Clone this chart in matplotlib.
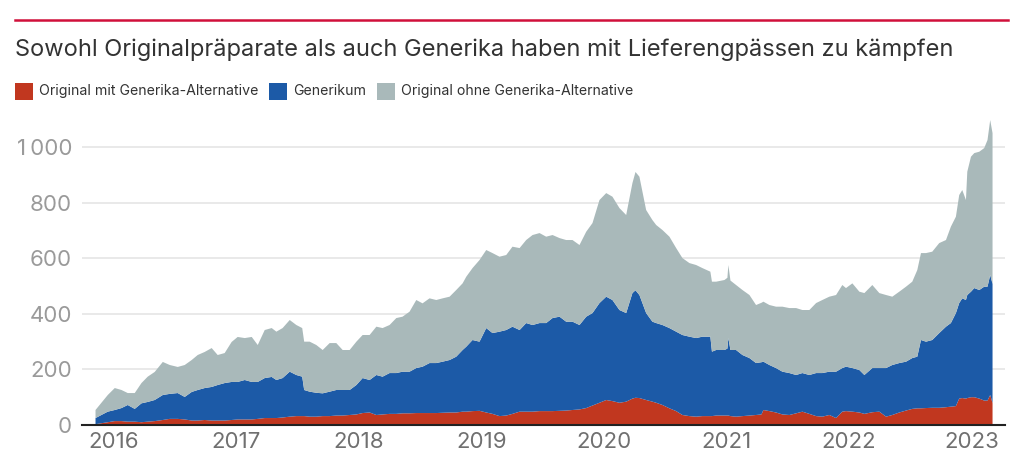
import matplotlib
matplotlib.use("Agg")
import matplotlib.pyplot as plt
from matplotlib.patches import Rectangle
from matplotlib.lines import Line2D
import numpy as np

plt.rcParams['font.family'] = ['Inter', 'DejaVu Sans']

# decimal years
years = [2015.851, 2015.951, 2016.008, 2016.063, 2016.114, 2016.171, 2016.226, 2016.277, 2016.334, 2016.400,
         2016.457, 2016.522, 2016.579, 2016.636, 2016.685, 2016.742, 2016.799, 2016.848, 2016.905, 2016.962,
         2017.011, 2017.069, 2017.126, 2017.175, 2017.232, 2017.289, 2017.327, 2017.378, 2017.436, 2017.490,
         2017.538, 2017.554, 2017.599, 2017.653, 2017.705, 2017.762, 2017.816, 2017.868, 2017.925, 2017.980,
         2018.031, 2018.088, 2018.143, 2018.194, 2018.251, 2018.306, 2018.357, 2018.414, 2018.469, 2018.520,
         2018.577, 2018.632, 2018.684, 2018.741, 2018.795, 2018.847, 2018.877, 2018.928, 2018.985, 2019.040,
         2019.091, 2019.148, 2019.203, 2019.254, 2019.312, 2019.366, 2019.418, 2019.475, 2019.529, 2019.581,
         2019.638, 2019.692, 2019.744, 2019.801, 2019.856, 2019.907, 2019.964, 2020.019, 2020.070, 2020.127,
         2020.182, 2020.233, 2020.258, 2020.290, 2020.345, 2020.396, 2020.427, 2020.478, 2020.535, 2020.590,
         2020.641, 2020.698, 2020.753, 2020.804, 2020.869, 2020.882, 2020.916, 2020.984, 2021.008, 2021.016,
         2021.033, 2021.079, 2021.131, 2021.188, 2021.242, 2021.286, 2021.302, 2021.351, 2021.405, 2021.457,
         2021.514, 2021.569, 2021.620, 2021.677, 2021.732, 2021.783, 2021.840, 2021.895, 2021.946, 2021.976,
         2022.028, 2022.085, 2022.126, 2022.191, 2022.248, 2022.303, 2022.354, 2022.411, 2022.466, 2022.517,
         2022.558, 2022.588, 2022.629, 2022.680, 2022.737, 2022.792, 2022.832, 2022.873, 2022.900, 2022.925,
         2022.955, 2022.966, 2022.996, 2023.023, 2023.064, 2023.104, 2023.131, 2023.153, 2023.172]

original_mit = [3, 10, 14, 14, 12, 12, 10, 12, 14, 18,
                22, 22, 20, 16, 16, 18, 16, 16, 16, 18,
                20, 20, 20, 22, 25, 25, 25, 27, 30, 32,
                32, 32, 30, 30, 32, 32, 34, 34, 36, 38,
                43, 45, 36, 38, 40, 40, 42, 42, 43, 43,
                43, 43, 44, 45, 45, 48, 48, 50, 51, 45,
                40, 32, 34, 40, 48, 48, 48, 50, 50, 50,
                51, 52, 54, 56, 61, 70, 80, 90, 86, 80,
                84, 95, 98, 97, 90, 84, 80, 72, 60, 50,
                36, 32, 30, 32, 32, 32, 34, 34, 34, 34,
                32, 30, 32, 34, 36, 38, 54, 50, 45, 38,
                36, 42, 48, 40, 32, 30, 36, 25, 48, 50,
                48, 45, 40, 46, 48, 30, 36, 45, 52, 58,
                60, 60, 61, 62, 62, 64, 66, 68, 95, 97,
                95, 97, 100, 100, 95, 88, 88, 108, 79]

generikum = [22, 38, 40, 47, 60, 46, 68, 71, 76, 90,
             90, 93, 81, 103, 110, 115, 121, 128, 135, 137,
             135, 142, 135, 133, 144, 148, 137, 142, 162, 148,
             142, 94, 90, 86, 82, 88, 92, 92, 90, 106,
             126, 117, 144, 136, 147, 147, 150, 150, 162, 167,
             180, 180, 184, 189, 201, 222, 234, 256, 249, 304,
             291, 304, 308, 314, 294, 319, 312, 317, 317, 335,
             339, 320, 318, 304, 329, 333, 359, 372, 364, 334,
             319, 380, 387, 371, 313, 288, 287, 288, 289, 286,
             288, 286, 283, 286, 286, 232, 236, 236, 241, 279,
             238, 240, 220, 207, 187, 188, 174, 166, 160, 154,
             151, 138, 139, 140, 155, 157, 156, 167, 157, 160,
             157, 153, 140, 159, 157, 175, 180, 178, 176, 183,
             186, 246, 239, 244, 269, 290, 301, 335, 344, 359,
             355, 371, 380, 393, 391, 410, 410, 432, 429]

original_ohne = [29, 60, 79, 65, 43, 57, 73, 91, 101, 119,
                 104, 94, 115, 115, 126, 130, 140, 108, 108, 144,
                 162, 151, 162, 133, 173, 176, 174, 180, 186, 180,
                 175, 174, 180, 172, 156, 175, 169, 144, 144, 156,
                 155, 162, 174, 175, 173, 198, 198, 216, 245, 228,
                 233, 227, 228, 228, 240, 240, 252, 259, 294, 281,
                 288, 270, 270, 288, 295, 299, 324, 324, 311, 299,
                 283, 294, 294, 288, 306, 324, 371, 373, 372, 367,
                 353, 396, 426, 426, 371, 366, 353, 342, 329, 301,
                 277, 265, 263, 247, 234, 252, 246, 252, 255, 263,
                 250, 234, 234, 227, 209, 214, 216, 216, 221, 234,
                 234, 241, 227, 234, 252, 263, 270, 276, 299, 283,
                 305, 282, 295, 299, 270, 263, 246, 257, 270, 275,
                 312, 313, 319, 318, 324, 312, 347, 347, 389, 390,
                 360, 444, 486, 486, 498, 499, 528, 558, 543]

series_labels = ["Original mit Generika-Alternative", "Generikum", "Original ohne Generika-Alternative"]
colors = ["#C1371F", "#1C5AA7", "#A9B9BA"]
year_ticks = [2016, 2017, 2018, 2019, 2020, 2021, 2022, 2023]
y_ticks = [0, 200, 400, 600, 800, 1000]
y_ticklabels = ["0", "200", "400", "600", "800", "1\u2009000"]
title = "Sowohl Originalpräparate als auch Generika haben mit Lieferengpässen zu kämpfen"

fig = plt.figure(figsize=(10.24, 4.73), dpi=100)
ax = fig.add_axes([0.080, 0.1015, 0.901, 0.6635])

ax.stackplot(years, original_mit, generikum, original_ohne, colors=colors, linewidth=0, zorder=2)

ax.set_xlim(2015.74, 2023.27)
ax.set_ylim(0, 1130)
ax.set_yticks(y_ticks)
ax.set_yticklabels(y_ticklabels)
ax.set_xticks(year_ticks)
ax.set_xticklabels([str(y) for y in year_ticks])
ax.grid(axis='y', color='#e3e3e3', linewidth=1.1, zorder=0)
ax.set_axisbelow(True)
for s in ['top', 'right', 'left']:
    ax.spines[s].set_visible(False)
ax.spines['bottom'].set_color('#222222')
ax.spines['bottom'].set_linewidth(1.5)
ax.spines['bottom'].set_zorder(3)
ax.tick_params(axis='y', length=0, pad=7, labelsize=16, labelcolor='#9a9a9a')
ax.tick_params(axis='x', length=0, pad=5, labelsize=16, labelcolor='#707070')

# top rule
fig.add_artist(Line2D([15/1024, 1008/1024], [1 - 20/473, 1 - 20/473], color='#D0103A', linewidth=1.8))
# title
fig.text(15/1024, 1 - 50/473, title, fontsize=17, color='#333333', va='center', ha='left')

# legend
fig.canvas.draw()
renderer = fig.canvas.get_renderer()
x = 15
ly = 91
for lab, c in zip(series_labels, colors):
    fig.add_artist(Rectangle((x/1024, 1 - (ly + 8.5)/473), 18/1024, 17/473, transform=fig.transFigure,
                             facecolor=c, edgecolor='none'))
    t = fig.text((x + 24)/1024, 1 - ly/473, lab, fontsize=10.2, color='#333333', va='center', ha='left')
    bb = t.get_window_extent(renderer)
    x = x + 24 + bb.width + 11

fig.savefig("out.png", dpi=100)
